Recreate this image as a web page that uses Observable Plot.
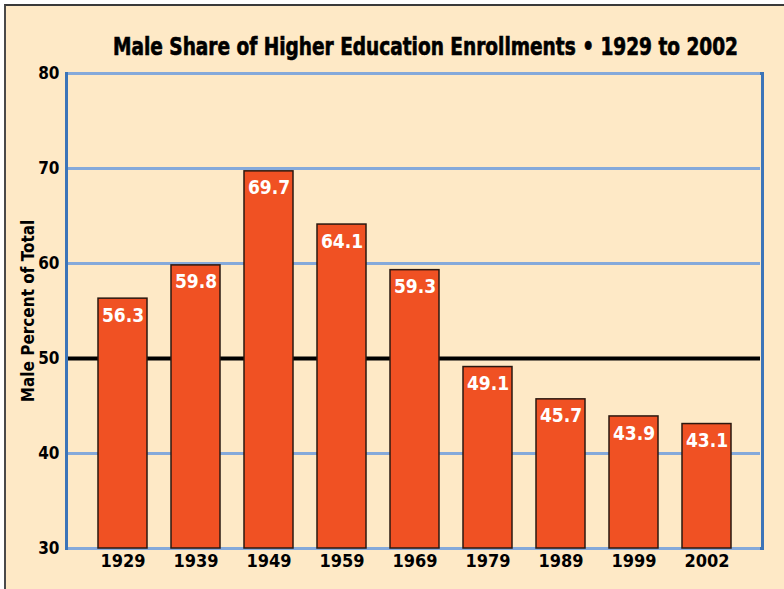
<!DOCTYPE html>
<html>
<head>
<meta charset="utf-8">
<script src="https://cdn.jsdelivr.net/npm/d3@7"></script>
<script src="https://cdn.jsdelivr.net/npm/@observablehq/plot@0.6"></script>
<style>
  html, body { margin: 0; padding: 0; background: #ffffff; }
  #wrap { position: relative; width: 784px; height: 589px; overflow: hidden; }
  #panel { position: absolute; left: 4px; top: 4px; width: 782px; height: 587px;
           background: #FEE9C6; border-left: 2px solid #4a4a4a; border-top: 2px solid #3a3a3a; }
  #title { position: absolute; left: 0; top: 0; }
  #chart { position: absolute; left: 0; top: 0; }
  .cf { font-family: "DejaVu Sans Condensed", "Liberation Sans Narrow", Roboto, sans-serif; font-weight: bold; }
</style>
</head>
<body>
<div id="wrap">
  <div id="panel"></div>
  <svg id="title" width="784" height="70">
    <g transform="translate(425.5,55) scale(1,1.3)">
      <text class="cf" x="0" y="0" text-anchor="middle" font-size="19" textLength="625"
        lengthAdjust="spacingAndGlyphs" fill="#000" stroke="#000" stroke-width="0.5">Male Share of Higher Education Enrollments  •  1929 to 2002</text>
    </g>
  </svg>
  <div id="chart"></div>
</div>
<script>
const years = ["1929", "1939", "1949", "1959", "1969", "1979", "1989", "1999", "2002"];
const malePercent = [56.3, 59.8, 69.7, 64.1, 59.3, 49.1, 45.7, 43.9, 43.1];
const yTicks = [30, 40, 50, 60, 70, 80];
const gridLines = [40, 60, 70];
const edgeLines = [30, 80];
const parityLine = [50];
const yLabel = "Male Percent of Total";

const data = years.map((y, i) => ({year: y, value: malePercent[i]}));
const font = '"DejaVu Sans Condensed", "Liberation Sans Narrow", Roboto, sans-serif';

const chart = Plot.plot({
  width: 784,
  height: 589,
  marginTop: 73,
  marginBottom: 41,
  marginLeft: 66,
  marginRight: 22,
  style: {background: "transparent", fontFamily: font, fontWeight: "bold", color: "#000"},
  x: {domain: years, paddingInner: 0.333, paddingOuter: 0.40, label: null},
  y: {domain: [30, 80], label: null},
  marks: [
    Plot.frame({stroke: "#3C74B8", strokeWidth: 3}),
    Plot.ruleY(gridLines, {stroke: "#85A9DA", strokeWidth: 3, insetLeft: 2, insetRight: 2}),
    Plot.ruleY(edgeLines, {stroke: "#85A9DA", strokeWidth: 3, insetLeft: 2, insetRight: 2}),
    Plot.ruleY(parityLine, {stroke: "#000", strokeWidth: 4, insetLeft: 2, insetRight: 2}),
    Plot.barY(data, {x: "year", y1: 30, y2: "value", fill: "#F05123", stroke: "#2a1810", strokeWidth: 1.5}),
    Plot.text(data, {x: "year", y: "value", text: d => d.value.toFixed(1), dy: 17, fill: "#fff",
      fontSize: 19, fontWeight: "bold"}),
    Plot.axisY({ticks: yTicks, tickSize: 0, tickPadding: 7, fontSize: 17, label: null}),
    Plot.axisX({tickSize: 0, tickPadding: 6, fontSize: 18, label: null}),
    Plot.text([yLabel], {frameAnchor: "left", dx: -38, rotate: -90, textAnchor: "middle",
      fontSize: 17, fontWeight: "bold", fill: "#000"})
  ]
});
document.getElementById("chart").appendChild(chart);
</script>
</body>
</html>
